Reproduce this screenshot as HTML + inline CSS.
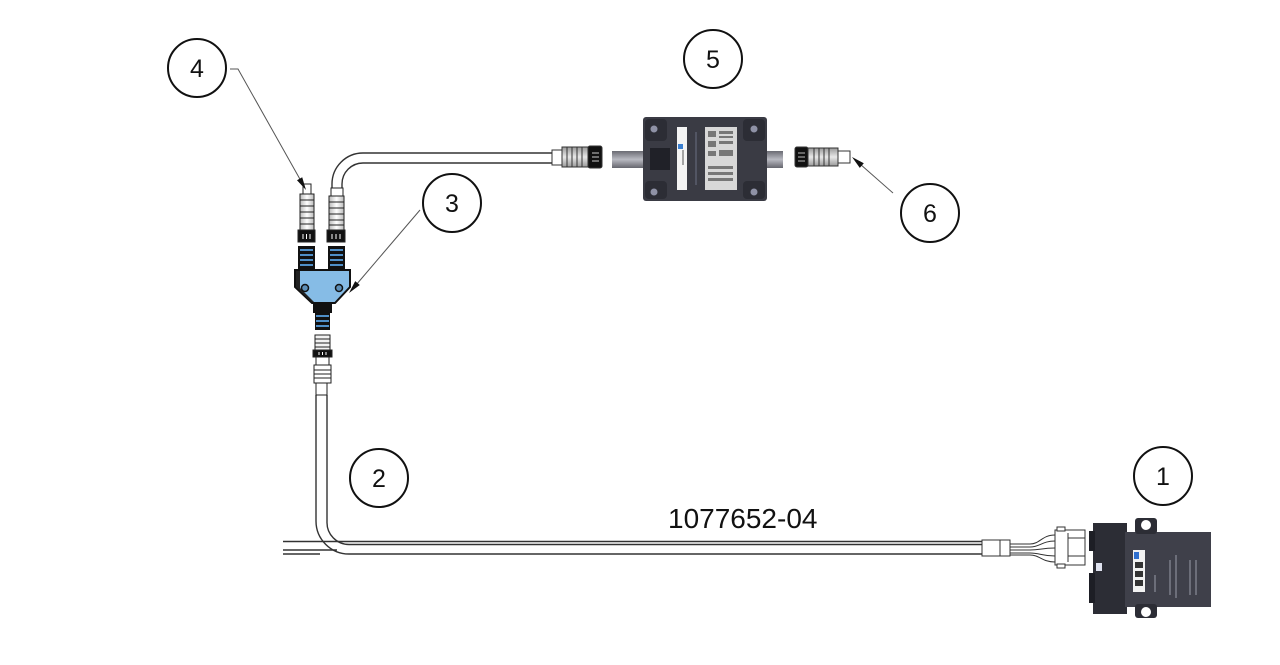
<!DOCTYPE html>
<html><head><meta charset="utf-8"><style>
html,body{margin:0;padding:0;background:#fff;width:1280px;height:665px;overflow:hidden}
svg{display:block}
text{font-family:"Liberation Sans",Arial,sans-serif;fill:#111}
</style></head><body>
<svg width="1280" height="665" viewBox="0 0 1280 665" xmlns="http://www.w3.org/2000/svg">
<defs>
<linearGradient id="stub" x1="0" y1="0" x2="0" y2="1">
<stop offset="0" stop-color="#6a6b73"/><stop offset="0.5" stop-color="#b9bac2"/><stop offset="1" stop-color="#65666e"/>
</linearGradient>
<linearGradient id="rib" x1="0" y1="0" x2="0" y2="1">
<stop offset="0" stop-color="#999"/><stop offset="0.5" stop-color="#e8e8e8"/><stop offset="1" stop-color="#999"/>
</linearGradient>
<linearGradient id="ribv" x1="0" y1="0" x2="1" y2="0">
<stop offset="0" stop-color="#bbb"/><stop offset="0.5" stop-color="#fff"/><stop offset="1" stop-color="#bbb"/>
</linearGradient>
</defs>

<!-- Top cable -->
<g fill="none" stroke="#333" stroke-width="1.4">
<path d="M555 153 L363 153 A31 31 0 0 0 332 184 L332 188"/>
<path d="M555 163 L363 163 A21 21 0 0 0 342 184 L342 188"/>
</g>

<!-- Bottom cable -->
<g fill="none" stroke="#333" stroke-width="1.4">
<path d="M316 395 L316 521 A33 33 0 0 0 349 554 L982 554"/>
<path d="M327 395 L327 522 A22 22 0 0 0 349 544.5 L982 544.5"/>
<path d="M283 541.5 L982 541.5"/>
<path d="M283 550 L337 550"/>
<path d="M283 554 L320 554"/>
</g>

<!-- Left female connector (item 4) -->
<g stroke="#222" stroke-width="1">
<rect x="303" y="184" width="8" height="10" fill="#fff"/>
<rect x="300" y="194" width="14" height="36" fill="url(#ribv)"/>
<line x1="300" y1="200" x2="314" y2="200"/><line x1="300" y1="206" x2="314" y2="206"/>
<line x1="300" y1="212" x2="314" y2="212"/><line x1="300" y1="218" x2="314" y2="218"/>
<line x1="300" y1="224" x2="314" y2="224"/>
<rect x="298" y="230" width="17" height="12" fill="#111"/>
</g>
<g stroke="#fff" stroke-width="1"><line x1="303" y1="234" x2="303" y2="239"/><line x1="306.5" y1="234" x2="306.5" y2="239"/><line x1="310" y1="234" x2="310" y2="239"/></g>

<!-- Right female connector on cable -->
<g stroke="#222" stroke-width="1">
<rect x="331" y="188" width="12" height="8" fill="#fff"/>
<rect x="329" y="196" width="15" height="34" fill="url(#ribv)"/>
<line x1="329" y1="202" x2="344" y2="202"/><line x1="329" y1="208" x2="344" y2="208"/>
<line x1="329" y1="214" x2="344" y2="214"/><line x1="329" y1="220" x2="344" y2="220"/>
<line x1="329" y1="225" x2="344" y2="225"/>
<rect x="327" y="230" width="18" height="12" fill="#111"/>
</g>
<g stroke="#fff" stroke-width="1"><line x1="332" y1="234" x2="332" y2="239"/><line x1="336" y1="234" x2="336" y2="239"/><line x1="340" y1="234" x2="340" y2="239"/></g>

<!-- Y splitter -->
<g>
<rect x="298" y="246" width="17" height="26" fill="#111"/>
<rect x="328" y="246" width="17" height="26" fill="#111"/>
<g fill="#4f8fc8">
<rect x="300" y="249" width="13" height="2"/><rect x="300" y="254" width="13" height="2"/><rect x="300" y="259" width="13" height="2"/><rect x="300" y="264" width="13" height="2"/>
<rect x="330" y="249" width="13" height="2"/><rect x="330" y="254" width="13" height="2"/><rect x="330" y="259" width="13" height="2"/><rect x="330" y="264" width="13" height="2"/>
</g>
<path d="M295 270 L350 270 L350 287 L335 303 L312 303 L295 287 Z" fill="#86bce6" stroke="#111" stroke-width="2"/>
<path d="M296 271 L300 271 L300 288 L314 302 L312 302 L296 287Z" fill="#222"/>
<circle cx="305" cy="288" r="3.5" fill="#5d8fb8" stroke="#111" stroke-width="1.5"/>
<circle cx="339" cy="288" r="3.5" fill="#5d8fb8" stroke="#111" stroke-width="1.5"/>
<rect x="313" y="303" width="19" height="10" fill="#111"/>
<rect x="315" y="313" width="15" height="17" fill="#111"/>
<g fill="#4f8fc8"><rect x="316" y="315" width="13" height="2"/><rect x="316" y="320" width="13" height="2"/><rect x="316" y="325" width="13" height="2"/></g>
</g>

<!-- Lower female connector -->
<g stroke="#222" stroke-width="1">
<rect x="315" y="335" width="15" height="15" fill="#f2f2f2"/>
<line x1="315" y1="339" x2="330" y2="339"/><line x1="315" y1="343" x2="330" y2="343"/><line x1="315" y1="347" x2="330" y2="347"/>
<rect x="313" y="350" width="19" height="7" fill="#111"/>
<rect x="316" y="357" width="13" height="8" fill="#fff"/>
<rect x="314" y="365" width="17" height="18" fill="#fff"/>
<line x1="314" y1="370" x2="331" y2="370"/><line x1="314" y1="374" x2="331" y2="374"/><line x1="314" y1="378" x2="331" y2="378"/>
<rect x="316" y="383" width="11" height="12" fill="#fff"/>
</g>
<g stroke="#fff"><line x1="319" y1="352" x2="319" y2="355"/><line x1="322.5" y1="352" x2="322.5" y2="355"/><line x1="326" y1="352" x2="326" y2="355"/></g>

<!-- Top cable connector -->
<g stroke="#333" stroke-width="1">
<rect x="552" y="150" width="10" height="15" fill="#fff"/>
<rect x="562" y="147" width="26" height="20" fill="url(#rib)"/>
<line x1="567" y1="147" x2="567" y2="167"/><line x1="572" y1="147" x2="572" y2="167"/><line x1="577" y1="147" x2="577" y2="167"/><line x1="582" y1="147" x2="582" y2="167"/>
<rect x="588" y="146" width="14" height="22" rx="2" fill="#111"/>
</g>
<g stroke="#ccc"><line x1="592" y1="153" x2="599" y2="153"/><line x1="592" y1="157" x2="599" y2="157"/><line x1="592" y1="161" x2="599" y2="161"/></g>

<!-- Device 5 -->
<rect x="612" y="151" width="32" height="17" fill="url(#stub)"/>
<rect x="763" y="151" width="20" height="17" fill="url(#stub)"/>
<rect x="643" y="117" width="124" height="84" rx="3" fill="#3a3b44"/>
<rect x="645" y="119" width="22" height="22" rx="4" fill="#2c2d35"/>
<rect x="743" y="119" width="22" height="22" rx="4" fill="#2c2d35"/>
<rect x="645" y="181" width="22" height="18" rx="4" fill="#2c2d35"/>
<rect x="743" y="181" width="22" height="18" rx="4" fill="#2c2d35"/>
<circle cx="654" cy="129" r="3.5" fill="#8f92a6"/>
<circle cx="754" cy="129" r="3.5" fill="#8f92a6"/>
<circle cx="654" cy="192" r="3.5" fill="#8f92a6"/>
<circle cx="754" cy="192" r="3.5" fill="#8f92a6"/>
<path d="M650 148 L670 148 L670 170 L650 170Z" fill="#202128"/>
<rect x="677" y="127" width="10" height="63" fill="#f4f4f4"/>
<rect x="678" y="144" width="5" height="5" fill="#3b7fd0"/>
<g stroke="#555" stroke-width="1"><line x1="683" y1="150" x2="683" y2="165"/></g>
<line x1="696" y1="132" x2="696" y2="185" stroke="#6a6f82" stroke-width="1"/>
<rect x="705" y="127" width="32" height="63" fill="#d8d8d8"/>
<g fill="#777"><rect x="708" y="131" width="8" height="6"/><rect x="719" y="131" width="14" height="3"/><rect x="719" y="136" width="14" height="2"/><rect x="708" y="141" width="8" height="6"/><rect x="719" y="141" width="14" height="3"/><rect x="708" y="151" width="8" height="5"/><rect x="719" y="150" width="14" height="6"/>
<rect x="708" y="166" width="25" height="3"/><rect x="708" y="172" width="25" height="3"/><rect x="708" y="178" width="25" height="3"/></g>

<!-- Right connector (item 6) -->
<g stroke="#333" stroke-width="1">
<rect x="795" y="147" width="13" height="20" rx="2" fill="#111"/>
<rect x="808" y="148" width="30" height="18" fill="url(#rib)"/>
<line x1="814" y1="148" x2="814" y2="166"/><line x1="819" y1="148" x2="819" y2="166"/><line x1="824" y1="148" x2="824" y2="166"/><line x1="829" y1="148" x2="829" y2="166"/>
<rect x="838" y="151" width="12" height="12" fill="#fff"/>
</g>
<g stroke="#bbb"><line x1="798" y1="153" x2="805" y2="153"/><line x1="798" y1="157" x2="805" y2="157"/><line x1="798" y1="161" x2="805" y2="161"/></g>

<!-- Bottom-right cable end & connector -->
<g stroke="#333" stroke-width="1" fill="#fff">
<rect x="982" y="540" width="28" height="16"/>
<line x1="1000" y1="540" x2="1000" y2="556"/>
<path d="M1010 544 L1030 544 C1040 544 1042 535 1055 535" fill="none"/>
<path d="M1010 547 L1030 547 C1040 547 1042 541 1055 541" fill="none"/>
<path d="M1010 550 L1030 550 C1040 550 1042 548 1055 548" fill="none"/>
<path d="M1010 553 L1030 553 C1040 553 1042 556 1055 556" fill="none"/>
<path d="M1010 555 L1030 555 C1040 555 1042 562 1055 562" fill="none"/>
<rect x="1055" y="530" width="30" height="35"/>
<rect x="1057" y="527" width="8" height="4"/>
<rect x="1057" y="564" width="8" height="4"/>
<line x1="1068" y1="533" x2="1068" y2="562"/>
<line x1="1068" y1="538" x2="1085" y2="538"/>
<line x1="1068" y1="556" x2="1085" y2="556"/>
</g>

<!-- Device 1 -->
<rect x="1093" y="523" width="34" height="91" fill="#2c2d35"/>
<rect x="1089" y="531" width="6" height="20" fill="#1d1e25"/>
<rect x="1089" y="573" width="6" height="30" fill="#1d1e25"/>
<rect x="1096" y="563" width="6" height="8" fill="#dfe2ef"/>
<rect x="1125" y="532" width="86" height="75" fill="#3f404a"/>
<rect x="1135" y="518" width="22" height="16" rx="3" fill="#2c2d35"/>
<rect x="1135" y="604" width="22" height="14" rx="3" fill="#2c2d35"/>
<circle cx="1146" cy="525" r="5" fill="#fff"/>
<circle cx="1146" cy="612" r="5" fill="#fff"/>
<rect x="1133" y="550" width="12" height="42" fill="#f2f2f2"/>
<rect x="1134" y="552" width="5" height="7" fill="#2f6fcf"/>
<g fill="#333"><rect x="1135" y="562" width="8" height="6"/><rect x="1135" y="571" width="8" height="6"/><rect x="1135" y="580" width="8" height="6"/></g>
<g stroke="#9a9ca8" stroke-width="1"><line x1="1170" y1="560" x2="1170" y2="595"/><line x1="1176" y1="555" x2="1176" y2="598"/><line x1="1190" y1="560" x2="1190" y2="595"/><line x1="1196" y1="560" x2="1196" y2="595"/><line x1="1155" y1="575" x2="1155" y2="592"/></g>

<!-- Leaders -->
<g stroke="#555" stroke-width="1" fill="none">
<polyline points="230,69 238,69 301,181"/>
<line x1="420" y1="210" x2="356" y2="285"/>
<line x1="893" y1="193" x2="860" y2="164"/>
</g>
<g fill="#111">
<polygon points="306,190 302.2,177.2 297,180.2"/>
<polygon points="349,293 359.8,285 355.2,281.1"/>
<polygon points="852,157 863.8,163.3 859.8,167.9"/>
</g>

<!-- Balloons -->
<g fill="#fff" stroke="#111" stroke-width="2">
<circle cx="197" cy="68" r="29"/>
<circle cx="713" cy="59" r="29"/>
<circle cx="452" cy="203" r="29"/>
<circle cx="930" cy="213" r="29"/>
<circle cx="379" cy="478" r="29"/>
<circle cx="1163" cy="476" r="29"/>
</g>
<g font-size="25" text-anchor="middle">
<text x="197" y="77">4</text>
<text x="713" y="68">5</text>
<text x="452" y="212">3</text>
<text x="930" y="222">6</text>
<text x="379" y="487">2</text>
<text x="1163" y="485">1</text>
</g>
<text x="668" y="528" font-size="28">1077652-04</text>
</svg>
</body></html>
